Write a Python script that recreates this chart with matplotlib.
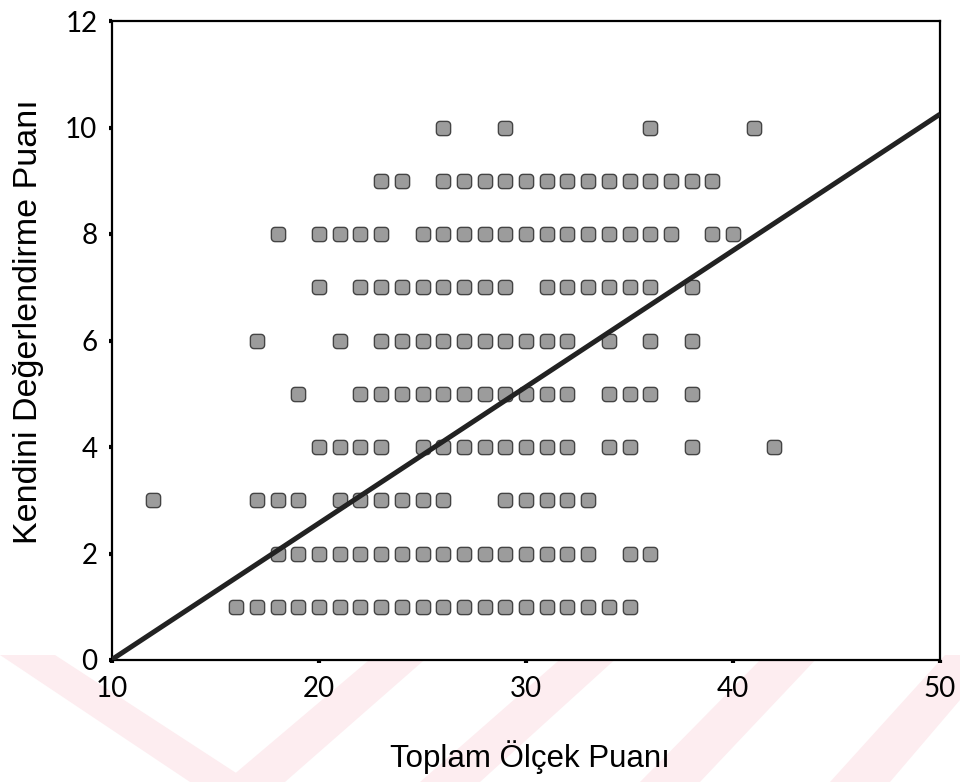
import matplotlib
matplotlib.use("Agg")
import matplotlib.pyplot as plt
import numpy as np
from matplotlib.path import Path
from matplotlib.patches import Polygon

# Toplam Ölçek Puanı (x) values observed at each Kendini Değerlendirme Puanı level (y)
row_10 = [26, 29, 36, 41]
row_9 = [23, 24, 26, 27, 28, 29, 30, 31, 32, 33, 34, 35, 36, 37, 38, 39]
row_8 = [18, 20, 21, 22, 23, 25, 26, 27, 28, 29, 30, 31, 32, 33, 34, 35, 36, 37, 39, 40]
row_7 = [20, 22, 23, 24, 25, 26, 27, 28, 29, 31, 32, 33, 34, 35, 36, 38]
row_6 = [17, 21, 23, 24, 25, 26, 27, 28, 29, 30, 31, 32, 34, 36, 38]
row_5 = [19, 22, 23, 24, 25, 26, 27, 28, 29, 30, 31, 32, 34, 35, 36, 38]
row_4 = [20, 21, 22, 23, 25, 26, 27, 28, 29, 30, 31, 32, 34, 35, 38, 42]
row_3 = [12, 17, 18, 19, 21, 22, 23, 24, 25, 26, 29, 30, 31, 32, 33]
row_2 = [18, 19, 20, 21, 22, 23, 24, 25, 26, 27, 28, 29, 30, 31, 32, 33, 35, 36]
row_1 = [16, 17, 18, 19, 20, 21, 22, 23, 24, 25, 26, 27, 28, 29, 30, 31, 32, 33, 34, 35]

rows = {10: row_10, 9: row_9, 8: row_8, 7: row_7, 6: row_6,
        5: row_5, 4: row_4, 3: row_3, 2: row_2, 1: row_1}

# fitted regression line
intercept = -2.55
slope = 0.256

x_ticks = [10, 20, 30, 40, 50]
y_ticks = [0, 2, 4, 6, 8, 10, 12]

x_pts = np.concatenate([np.array(v, dtype=float) for v in rows.values()])
y_pts = np.concatenate([np.full(len(v), k, dtype=float) for k, v in rows.items()])

# rounded square marker
t = np.linspace(0, np.pi / 2, 6)
r, h = 0.25, 0.5
verts = []
for cx, cy, a0 in [(h - r, h - r, 0), (-h + r, h - r, np.pi / 2),
                   (-h + r, -h + r, np.pi), (h - r, -h + r, 1.5 * np.pi)]:
    for a in t + a0:
        verts.append((cx + r * np.cos(a), cy + r * np.sin(a)))
verts.append(verts[0])
rsquare = Path(verts, closed=True)

fig = plt.figure(figsize=(9.6, 7.82), dpi=100)

# faint thesis watermark chevrons at the bottom
pink = "#fdedf0"
for pts in [
    [(0, 655), (55, 655), (250, 782), (190, 782)],
    [(225, 782), (285, 782), (430, 655), (375, 655)],
    [(420, 782), (480, 782), (620, 655), (565, 655)],
    [(640, 782), (700, 782), (820, 655), (765, 655)],
    [(830, 782), (890, 782), (960, 700), (960, 655), (945, 655)],
]:
    fig.patches.append(Polygon([(px / 960, 1 - py / 782) for px, py in pts],
                               closed=True, transform=fig.transFigure,
                               facecolor=pink, edgecolor="none", zorder=-5))

ax = fig.add_axes([112 / 960, 1 - 660 / 782, (940 - 112) / 960, (660 - 21) / 782])
ax.set_facecolor("white")

ax.scatter(x_pts, y_pts, marker=rsquare, s=105, facecolor="#9c9c9c",
           edgecolor="#444444", linewidths=1.0, zorder=3)

xl = np.array([10, 50], dtype=float)
ax.plot(xl, intercept + slope * xl, color="#222222", linewidth=3.6,
        solid_capstyle="butt", zorder=4)

ax.set_xlim(10, 50)
ax.set_ylim(0, 12)
ax.set_xticks(x_ticks)
ax.set_yticks(y_ticks)
for lab in ax.get_xticklabels() + ax.get_yticklabels():
    lab.set_fontfamily(["Lato", "DejaVu Sans"])
    lab.set_fontsize(20)
ax.tick_params(direction="out", length=2.5, width=3, color="black")
ax.tick_params(axis="x", pad=9)
ax.tick_params(axis="y", pad=8)
for s in ax.spines.values():
    s.set_linewidth(1.6)
    s.set_color("black")

fig.text(530 / 960, 1 - 757 / 782, "Toplam Ölçek Puanı", ha="center", va="center",
         fontsize=22.5, family=["Liberation Sans", "DejaVu Sans"])
fig.text(29 / 960, 1 - 322 / 782, "Kendini Değerlendirme Puanı", ha="center",
         va="center", rotation=90, fontsize=24.5,
         family=["Liberation Sans", "DejaVu Sans"])

fig.savefig("out.png", dpi=100, facecolor="white")
